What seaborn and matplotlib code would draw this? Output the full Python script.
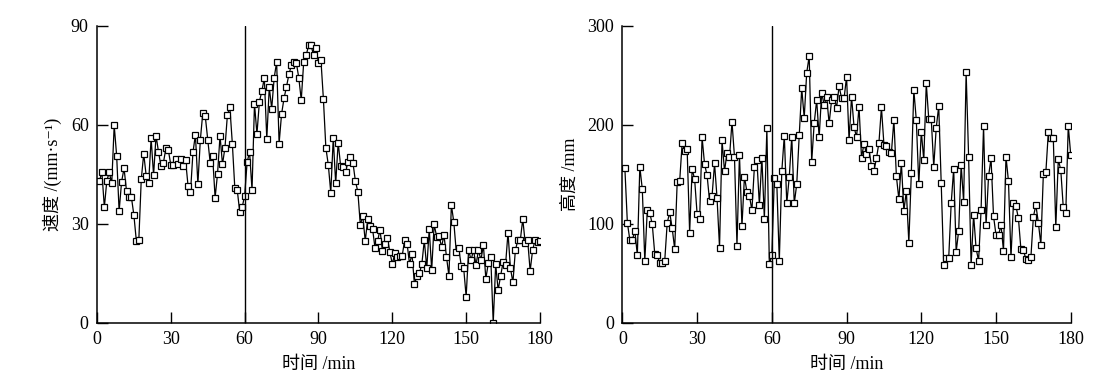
import numpy as np
import pandas as pd
import matplotlib
matplotlib.use("Agg")
import matplotlib.pyplot as plt
import seaborn as sns

# minute index, one reading per minute
minutes = np.arange(1, 181)

# speed, mm/s (left panel)
speed = [
    43, 45.6, 35, 43, 45.6, 42.2, 59.8, 50.6, 33.8, 42.7,
    46.8, 40, 38, 38, 32.6, 24.8, 25, 43.5, 51.2, 44.5,
    42.4, 55.9, 44.7, 56.7, 51.8, 47.5, 48.5, 52.8, 52.3, 47.8,
    47.8, 49.6, 48, 49.5, 47.5, 49.3, 41.5, 39.5, 51.6, 57,
    42, 55.4, 63.6, 62.6, 55.4, 48.5, 50.4, 37.9, 45.2, 56.7,
    48, 53, 63, 65.3, 54.3, 40.9, 40.2, 33.6, 35, 38.5,
    48.6, 51.8, 40.2, 66.3, 57.2, 67, 70.2, 74.2, 55.7, 71.3,
    64.9, 74.2, 79, 54.3, 63.2, 68, 71.5, 75.3, 78, 79,
    78.8, 74.2, 67.5, 79, 81, 84.1, 84.1, 81, 83.1, 78.8,
    79.6, 67.8, 53, 47.8, 39.4, 55.9, 42.2, 54.6, 47.5, 47.3,
    45.8, 48.7, 50.2, 48.5, 42.9, 39.7, 29.6, 32.4, 24.7, 31.4,
    29.3, 28.3, 22.5, 24.7, 28.2, 21.7, 24, 25.7, 21.5, 17.8,
    21, 20, 20.2, 20.2, 25, 24, 17.8, 20.8, 11.6, 14.2,
    15, 17.8, 25, 16.5, 28.4, 16, 29.8, 26.1, 26.3, 23,
    26.5, 20, 14.2, 35.7, 30.4, 21.3, 22.5, 17.3, 16.5, 7.9,
    22, 19, 22, 17.5, 22, 19, 23.5, 13.4, 18, 19.8,
    0, 17.7, 9.9, 14.2, 18.3, 17.5, 27.3, 16.5, 12.2, 22,
    25, 25, 31.4, 24.2, 25, 15.7, 22, 25, 24.5, 24.7,
]

# height, mm (right panel)
height = [
    155.9, 101, 83.5, 83.5, 93, 68.3, 157.6, 134.7, 62.3, 113.8,
    111, 99.3, 69.4, 68.3, 60, 60, 62.6, 101, 111.4, 95.3,
    74.4, 141.8, 143, 181.8, 173.4, 175, 91, 155.2, 145, 109.8,
    104.4, 187.2, 160, 149, 123, 128, 161, 126, 76, 184.5,
    153, 171.7, 167, 203, 167.7, 78, 169.7, 97.6, 147.5, 132.3,
    128.3, 113.5, 157.6, 164.3, 118.9, 166.7, 104.7, 196.3, 59, 68.3,
    145.8, 140, 62.6, 153, 189, 120.5, 147.5, 188, 120.5, 140,
    189.5, 236.7, 207, 252.5, 269.4, 162.6, 201.3, 225, 187.2, 232.3,
    219.9, 228.3, 201.3, 225, 227.6, 217.2, 239, 226.6, 226.6, 248.5,
    184.5, 228.3, 198, 187.2, 218.2, 166.7, 181, 170.4, 175, 158.2,
    153.5, 166, 182, 217.5, 180, 178.5, 172.7, 171.7, 204.7, 148,
    124.6, 161.6, 113, 133, 80.8, 151.5, 235, 204.7, 139.7, 193,
    164.3, 241.7, 205.7, 205.7, 157.6, 197, 218.8, 140.7, 58.2, 65,
    65, 120.5, 155.5, 71.7, 92.6, 159.3, 122.2, 252.9, 167.7, 58.2,
    109, 75, 62.6, 113.8, 198.6, 98.6, 148, 166, 107.7, 88.5,
    88.5, 98.6, 72.7, 167.7, 143, 66, 120.5, 117.8, 105.4, 74,
    73.4, 64, 63.3, 66, 107, 118.9, 101, 79, 150, 151.8,
    192.2, 186.9, 186.2, 96.3, 165, 154.2, 116.5, 110.4, 199, 169.4,
]

x_ticks = [0, 30, 60, 90, 120, 150, 180]
speed_ticks = [0, 30, 60, 90]
height_ticks = [0, 100, 200, 300]
split_minute = 60

df = pd.DataFrame({"minute": minutes, "speed": speed, "height": height})

sns.set_style("ticks")
plt.rcParams["font.family"] = ["Liberation Serif", "Noto Sans CJK SC", "DejaVu Serif"]
plt.rcParams["font.size"] = 13
for k in ["text.color", "axes.labelcolor", "xtick.color", "ytick.color"]:
    plt.rcParams[k] = "black"

fig = plt.figure(figsize=(11.12, 3.87), dpi=100)
ax1 = fig.add_axes([0.0872, 0.166, 0.3984, 0.7676])
ax2 = fig.add_axes([0.5597, 0.166, 0.4032, 0.7676])

panels = [
    (ax1, "speed", speed_ticks, "速度 /(mm·s⁻¹)"),
    (ax2, "height", height_ticks, "高度 /mm"),
]

for ax, col, yt, ylab in panels:
    sns.lineplot(data=df, x="minute", y=col, ax=ax, color="black", lw=0.9,
                 marker="s", markersize=5, markerfacecolor="white",
                 markeredgecolor="black", markeredgewidth=0.9, errorbar=None)
    ax.axvline(split_minute, color="black", lw=1)
    ax.set_xlim(0, 180)
    ax.set_ylim(yt[0], yt[-1])
    ax.set_xticks(x_ticks)
    ax.set_yticks(yt)
    ax.set_xlabel("时间 /min", labelpad=6)
    ax.set_ylabel(ylab, labelpad=6)
    ax.tick_params(direction="in", length=8, width=1, colors="black", pad=6)
    sns.despine(ax=ax)
    for s in ["left", "bottom"]:
        ax.spines[s].set_color("black")
        ax.spines[s].set_linewidth(1.1)

fig.savefig("out.png", dpi=100)
